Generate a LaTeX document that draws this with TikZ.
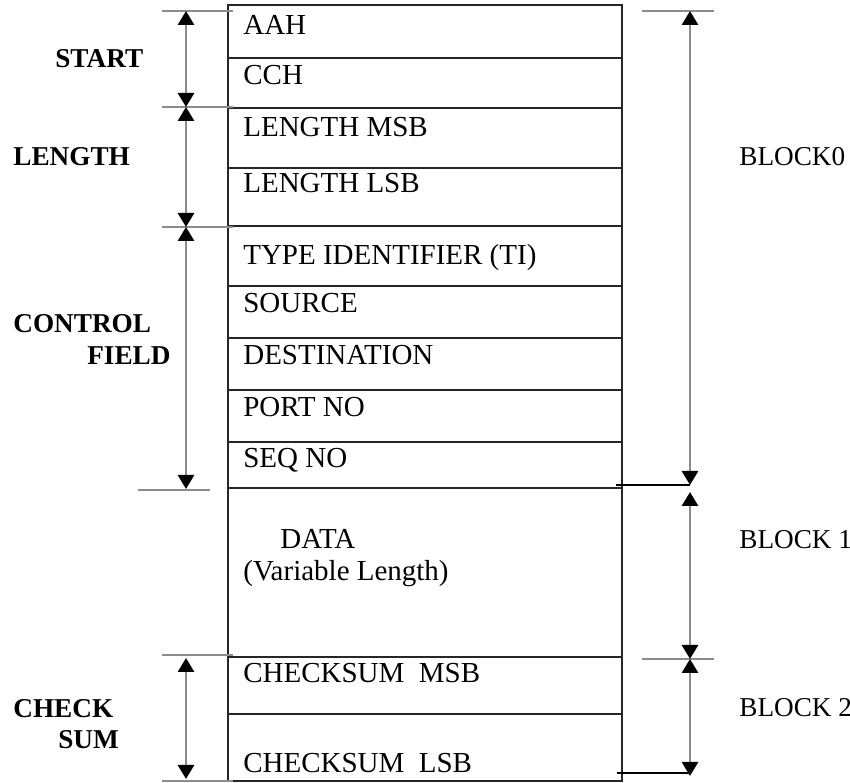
\documentclass[tikz,border=0pt]{standalone}
\usepackage{fontspec}
\setmainfont{Liberation Serif}
\usetikzlibrary{arrows.meta,positioning}
\tikzset{
  field/.style={anchor=base west, inner sep=0pt, font=\fontsize{16.5}{19}\selectfont},
  tag/.style={anchor=base west, inner sep=0pt, font=\fontsize{15.5}{18}\selectfont\bfseries},
  blk/.style={anchor=base west, inner sep=0pt, font=\fontsize{15.5}{18}\selectfont},
  frame/.style={line width=1.1pt, black!85},
  tick/.style={line width=1.6pt, black!45},
  dim/.style={{Triangle[length=0.28cm,width=0.32cm,black]}-{Triangle[length=0.28cm,width=0.32cm,black]}, line width=1.6pt, black!45},
  lead/.style={line width=0.7pt, black}
}

\begin{document}
\begin{tikzpicture}[x=0.02cm, y=-0.02cm]
    \path[use as bounding box] (0,0) rectangle (850,783);

    \draw[frame] (228,5) rectangle (622,781);
    \foreach \y in {58,108,168,226,286,338,390,442,488,657,714}
      \draw[frame] (228,\y) -- (622,\y);

    \node[field] (aah) at (243,35) {AAH};
    \node[field] (cch) at (243,85) {CCH};
    \node[field] (lmsb) at (243,137) {LENGTH MSB};
    \node[field] (llsb) at (243,193) {LENGTH LSB};
    \node[field] (ti) at (243,265) {TYPE IDENTIFIER (TI)};
    \node[field] (src) at (243,313) {SOURCE};
    \node[field] (dst) at (243,365) {DESTINATION};
    \node[field] (port) at (243,417) {PORT NO};
    \node[field] (seq) at (243,468) {SEQ NO};
    \node[field] (data) at (280,549) {DATA};
    \node[field] (var) at (243,581) {(Variable Length)};
    \node[field] (csmsb) at (243,683) {CHECKSUM\ \ MSB};
    \node[field] (cslsb) at (243,773) {CHECKSUM\ \ LSB};

    \node[tag] (start) at (55,68) {START};
    \node[tag] (len) at (13,166) {LENGTH};
    \node[tag] (ctrl) at (13,333) {CONTROL};
    \node[tag] (fld) at (87,365) {FIELD};
    \node[tag] (chk) at (13,718) {CHECK};
    \node[tag] (sum) at (58,749) {SUM};

    \node[blk] (b0) at (739,166) {BLOCK0};
    \node[blk] (b1) at (739,549) {BLOCK 1};
    \node[blk] (b2) at (739,717) {BLOCK 2};

    \coordinate (l0) at (186,11);
    \coordinate (l1) at (186,107);
    \coordinate (l2) at (186,227);
    \coordinate (l3) at (186,489);
    \coordinate (l4) at (186,658);
    \coordinate (l5) at (186,779);
    \coordinate (r0) at (690,11);
    \coordinate (r1) at (690,485);
    \coordinate (r2) at (690,492);
    \coordinate (r3) at (690,659);
    \coordinate (r4) at (690,776);

    \draw[tick] (162,11) -- ++(71,0);
    \draw[tick] (162,107) -- ++(71,0);
    \draw[tick] (162,227) -- ++(71,0);
    \draw[tick] (138,490) -- ++(72,0);
    \draw[tick] (162,655) -- ++(71,0);
    \draw[tick] (162,781) -- ++(71,0);
    \draw[tick] (642,11) -- ++(72,0);
    \draw[tick] (642,659) -- ++(72,0);
    \draw[lead] (616,485) -- (r1);
    \draw[lead] (617,773) -- (r4 |- 0,773);

    \draw[dim] (l0) -- (l1);
    \draw[dim] (l1) -- (l2);
    \draw[dim] (l2) -- (l3);
    \draw[dim] (l4) -- (l5);
    \draw[dim] (r0) -- (r1);
    \draw[dim] (r2) -- (r3);
    \draw[dim] (r3) -- (r4);
  \end{tikzpicture}
\end{document}
